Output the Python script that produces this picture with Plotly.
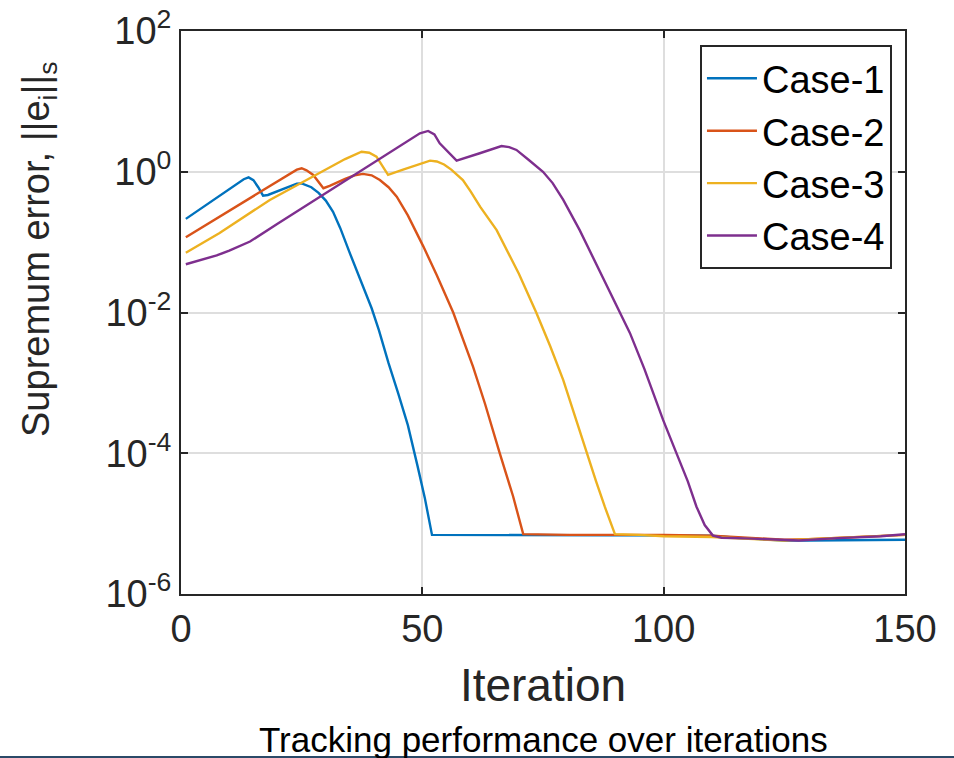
import plotly.graph_objects as go

# ---------------- data ----------------
case1_iter = [1, 7, 13, 14, 15, 16, 17, 18, 21, 24, 25, 26, 27, 28.5, 30, 31.5, 33, 35, 37, 39.5, 41, 43, 45, 47, 49,
              50.5, 52, 60, 80, 100, 110, 115, 120, 125, 130, 140, 150]
case1_err = [0.214, 0.407, 0.783, 0.832, 0.759, 0.603, 0.457, 0.468, 0.562, 0.676, 0.684, 0.646, 0.603, 0.501, 0.389,
             0.269, 0.158, 0.0692, 0.0316, 0.01148, 5.62e-3, 1.905e-3, 7.08e-4, 2.51e-4, 6.61e-5, 2.34e-5, 6.92e-6,
             6.92e-6, 6.92e-6, 6.92e-6, 6.76e-6, 6.31e-6, 6.03e-6, 5.75e-6, 5.75e-6, 5.89e-6, 5.89e-6]

case2_iter = [1, 12, 23, 24, 25, 26, 27.4, 28.5, 29.5, 30.8, 34, 36, 37.7, 39.5, 41.2, 43, 44.7, 47, 50.2, 53, 56.4,
              60.5, 63, 66, 68.8, 70.9, 80, 100, 110, 120, 125, 130, 140, 150]
case2_err = [0.1175, 0.339, 0.955, 1.072, 1.122, 1.047, 0.902, 0.708, 0.583, 0.631, 0.794, 0.891, 0.933, 0.891, 0.764,
             0.603, 0.443, 0.24, 0.0871, 0.0339, 0.01, 1.70e-3, 5.01e-4, 1.02e-4, 2.45e-5, 7.08e-6, 6.92e-6, 6.92e-6,
             6.76e-6, 6.17e-6, 5.89e-6, 6.03e-6, 6.46e-6, 6.92e-6]

case3_iter = [1, 8, 18.4, 28, 34, 37.4, 39, 40.5, 41.8, 42.9, 46, 49, 51.6, 53, 54.5, 56, 58.4, 60, 62, 65.4, 67.4, 70,
              73.6, 76.5, 79.2, 81.5, 84, 86, 87.8, 89.9, 95, 100, 110, 120, 125, 130, 140, 150]
case3_err = [0.0708, 0.135, 0.398, 0.912, 1.514, 1.928, 1.862, 1.641, 1.202, 0.902, 1.072, 1.259, 1.439, 1.40, 1.27,
             1.072, 0.764, 0.525, 0.316, 0.148, 0.0813, 0.0355, 0.01, 3.31e-3, 1.096e-3, 3.55e-4, 1.02e-4, 3.98e-5,
             1.74e-5, 7.08e-6, 6.92e-6, 6.61e-6, 6.46e-6, 6.03e-6, 5.75e-6, 6.03e-6, 6.46e-6, 6.92e-6]

case4_iter = [1, 4, 7.4, 10, 14.3, 20, 30, 40, 49.5, 51.2, 52.5, 53.6, 55, 57.1, 61.9, 66.4, 68, 69.5, 72, 75, 77,
              79.2, 82.6, 86, 90.9, 93, 96, 99.9, 102.6, 105, 106.8, 108.5, 110.2, 112, 117, 123.3, 128, 135, 140, 145,
              150]
case4_err = [0.0485, 0.055, 0.0646, 0.0759, 0.102, 0.182, 0.495, 1.349, 3.52, 3.80, 3.39, 2.54, 1.995, 1.439, 1.832,
             2.323, 2.239, 2.042, 1.479, 1.0, 0.69, 0.398, 0.148, 0.0501, 0.01, 5.13e-3, 1.58e-3, 2.95e-4, 1.02e-4,
             3.98e-5, 1.74e-5, 9.55e-6, 6.76e-6, 6.31e-6, 6.17e-6, 5.89e-6, 5.75e-6, 6.17e-6, 6.31e-6, 6.61e-6,
             7.08e-6]

series_names = ["Case-1", "Case-2", "Case-3", "Case-4"]
x_tick_vals = [0, 50, 100, 150]
y_tick_vals = [1e-6, 1e-4, 1e-2, 1e0, 1e2]
y_tick_text = ["10<sup>-6</sup>", "10<sup>-4</sup>", "10<sup>-2</sup>", "10<sup>0</sup>", "10<sup>2</sup>"]

# ---------------- styling ----------------
colors = ["#0072BD", "#D95319", "#EDB120", "#7E2F8E"]
FONT = "Liberation Sans, Arial, Helvetica, sans-serif"
AX = "#262626"

fig = go.Figure()
for name, xs, ys, c in zip(series_names,
                           [case1_iter, case2_iter, case3_iter, case4_iter],
                           [case1_err, case2_err, case3_err, case4_err],
                           colors):
    fig.add_trace(go.Scatter(x=xs, y=ys, mode="lines", name=name,
                             line=dict(color=c, width=2.4)))

fig.update_layout(
    width=954, height=758,
    margin=dict(l=181, r=49, t=31, b=164),
    paper_bgcolor="white", plot_bgcolor="white",
    font=dict(family=FONT, color="#262626"),
    showlegend=True,
    legend=dict(x=0.982, y=0.975, xanchor="right", yanchor="top",
                bgcolor="white", bordercolor=AX, borderwidth=2,
                font=dict(size=38, color="black", family=FONT),
                itemwidth=50, tracegroupgap=0),
    xaxis=dict(range=[0, 150], tickvals=x_tick_vals, ticks="inside", ticklen=7, tickwidth=2,
               tickcolor=AX, showline=True, linecolor=AX, linewidth=2, mirror="ticks",
               showgrid=True, gridcolor="#dedede", gridwidth=1.5, zeroline=False, automargin=False,
               tickfont=dict(size=38, color=AX, family=FONT),
               title=dict(text="Iteration", font=dict(size=46, color=AX, family=FONT), standoff=20)),
    yaxis=dict(type="log", range=[-6, 2], tickvals=y_tick_vals, ticktext=y_tick_text,
               ticks="inside", ticklen=7, tickwidth=2, tickcolor=AX,
               showline=True, linecolor=AX, linewidth=2, mirror="ticks",
               showgrid=True, gridcolor="#dedede", gridwidth=1.5, zeroline=False, automargin=False,
               tickfont=dict(size=38, color=AX, family=FONT)),
    annotations=[
        dict(text="Supremum error, ||e<sub>i</sub>||<sub>s</sub>", x=-0.196, y=0.613,
             xref="paper", yref="paper", xanchor="center", yanchor="middle", textangle=-90,
             showarrow=False, font=dict(size=38, color=AX, family=FONT)),
        dict(text="Tracking performance over iterations", x=0.5, y=-0.259,
             xref="paper", yref="paper", xanchor="center", yanchor="middle",
             showarrow=False, font=dict(size=35, color="black", family=FONT)),
    ],
    shapes=[dict(type="line", xref="paper", yref="paper", x0=-0.26, x1=1.08, y0=-0.2897, y1=-0.2897,
                 line=dict(color="#2b4a68", width=2))],
)

fig.write_html("out.html")
